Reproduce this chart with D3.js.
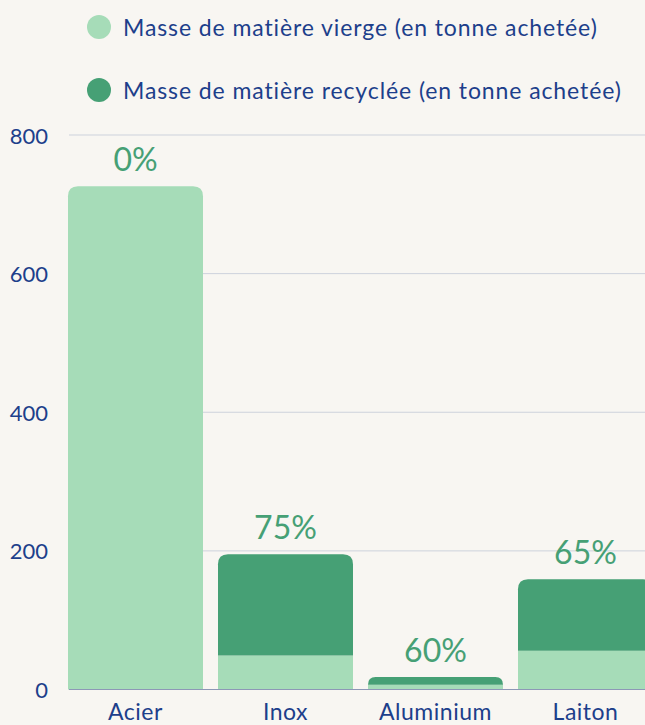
<!DOCTYPE html>
<html>
<head>
<meta charset="utf-8">
<script src="https://cdn.jsdelivr.net/npm/d3@7"></script>
<style>
  html, body { margin: 0; padding: 0; background: #f8f6f2; }
  svg { display: block; font-family: Lato, "Open Sans", sans-serif; }
</style>
</head>
<body>
<svg id="chart" width="645" height="725"></svg>
<script>
const categories = ["Acier", "Inox", "Aluminium", "Laiton"]
const virgin = [726, 49, 7, 56]
const recycled = [0, 146, 11, 103]
const pctLabels = ["0%", "75%", "60%", "65%"]
const yTicks = [0, 200, 400, 600, 800]
const seriesNames = [
  "Masse de matière vierge (en tonne achetée)",
  "Masse de matière recyclée (en tonne achetée)"
]

const colors = ["#a6dcb8", "#46a075"]
const textColor = "#1d3f8b"

const svg = d3.select("#chart")
const W = 645, H = 725

svg.append("rect").attr("width", W).attr("height", H).attr("fill", "#f8f6f2")

const x = d3.scaleBand()
  .domain(categories)
  .range([60.5, 660.5])
  .paddingInner(0.1)
  .paddingOuter(0.05)

const y = d3.scaleLinear()
  .domain([0, 800])
  .range([689.5, 135])

// gridlines
svg.append("g").selectAll("line").data(yTicks.filter(d => d > 0))
  .join("line")
  .attr("x1", 69).attr("x2", W)
  .attr("y1", d => y(d)).attr("y2", d => y(d))
  .attr("stroke", "#cdd2dc")
  .attr("stroke-width", 1)

// y labels
svg.append("g").selectAll("text").data(yTicks)
  .join("text")
  .attr("x", 48)
  .attr("y", d => y(d))
  .attr("text-anchor", "end")
  .attr("dominant-baseline", "central")
  .attr("fill", textColor)
  .attr("font-size", 22)
  .text(d => d)

// rounded-top rect path
const topRounded = (x0, y0, w, h, r) => {
  r = Math.min(r, h, w / 2)
  return `M${x0},${y0 + h}V${y0 + r}Q${x0},${y0} ${x0 + r},${y0}` +
    `H${x0 + w - r}Q${x0 + w},${y0} ${x0 + w},${y0 + r}V${y0 + h}Z`
}

const stacked = categories.map((c, i) => {
  const segs = [
    { key: 0, y0: 0, y1: virgin[i] },
    { key: 1, y0: virgin[i], y1: virgin[i] + recycled[i] }
  ].filter(s => s.y1 > s.y0)
  segs[segs.length - 1].top = true
  return { cat: c, segs, total: virgin[i] + recycled[i], pct: pctLabels[i] }
})

const bars = svg.append("g").selectAll("g").data(stacked).join("g")

bars.selectAll("path").data(d => d.segs.map(s => ({ ...s, cat: d.cat })))
  .join("path")
  .attr("fill", d => colors[d.key])
  .attr("d", d => {
    const x0 = x(d.cat), w = x.bandwidth()
    const top = y(d.y1), h = y(d.y0) - y(d.y1)
    return d.top ? topRounded(x0, top, w, h, 10) : `M${x0},${top}h${w}v${h}h${-w}Z`
  })

// baseline
svg.append("line")
  .attr("x1", 69).attr("x2", W)
  .attr("y1", y(0)).attr("y2", y(0))
  .attr("stroke", "#8d98b6")
  .attr("stroke-width", 1)

// percent labels
bars.append("text")
  .attr("x", d => x(d.cat) + x.bandwidth() / 2)
  .attr("y", d => y(d.total) - 15)
  .attr("text-anchor", "middle")
  .attr("fill", "#46a075")
  .attr("font-size", 32)
  .text(d => d.pct)

// x labels
svg.append("g").selectAll("text").data(categories)
  .join("text")
  .attr("x", d => x(d) + x.bandwidth() / 2)
  .attr("y", 720)
  .attr("text-anchor", "middle")
  .attr("fill", textColor)
  .attr("font-size", 23)
  .attr("letter-spacing", 0.5)
  .text(d => d)

// legend
const legend = svg.append("g").selectAll("g").data(seriesNames)
  .join("g")
  .attr("transform", (d, i) => `translate(99, ${27 + i * 63})`)

legend.append("circle")
  .attr("r", 12)
  .attr("fill", (d, i) => colors[i])

legend.append("text")
  .attr("x", 24)
  .attr("y", 0)
  .attr("dominant-baseline", "central")
  .attr("fill", textColor)
  .attr("font-size", 23)
  .attr("letter-spacing", 0.9)
  .text(d => d)
</script>
</body>
</html>
